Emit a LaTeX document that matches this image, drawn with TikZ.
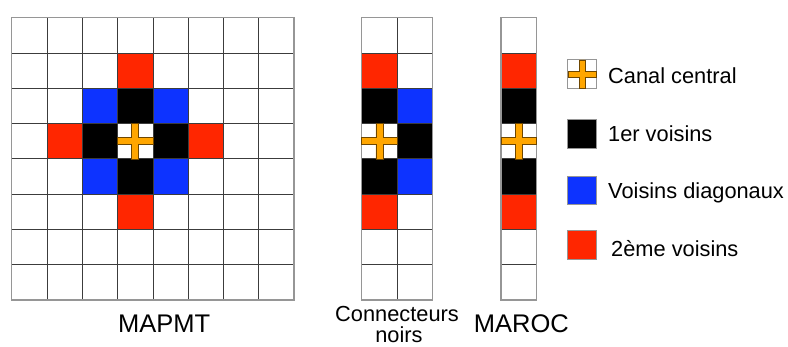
\documentclass[tikz,border=0pt]{standalone}
\usepackage{fontspec}
\setmainfont{Liberation Sans}
\usetikzlibrary{positioning}
\definecolor{vred}  {RGB}{255,38,0}
\definecolor{vblue} {RGB}{13,51,255}
\definecolor{vorange}{RGB}{255,166,0}
\definecolor{vbrown}{RGB}{110,70,0}
\definecolor{gline} {RGB}{60,60,60}
\definecolor{gborder}{RGB}{150,150,150}

\tikzset{
  cell/.style={draw=gline, line width=0.8pt},
  frame/.style={draw=gborder, line width=1.4pt},
  keybox/.style={draw=gborder, line width=1pt},
  title/.style={font=\fontsize{25.5}{30}\selectfont, inner sep=0pt, anchor=base},
  keytext/.style={font=\fontsize{21.8}{26}\selectfont, inner sep=0pt, anchor=base west},
  pics/canal/.style={code={
    \pgfmathsetmacro\hs{#1}
    \pgfmathsetmacro\ht{0.2*#1}
    \filldraw[fill=vorange, draw=vbrown, line width=0.6pt]
      (-\hs,-\ht) -- (-\ht,-\ht) -- (-\ht,-\hs) -- (\ht,-\hs) -- (\ht,-\ht)
      -- (\hs,-\ht) -- (\hs,\ht) -- (\ht,\ht) -- (\ht,\hs) -- (-\ht,\hs)
      -- (-\ht,\ht) -- (-\hs,\ht) -- cycle;
  }}
}

\begin{document}
\begin{tikzpicture}[x=1pt, y=-1pt]
  \fill[white] (0,0) rectangle (788,347);
  \useasboundingbox (0,0) rectangle (788,347);
  \def\cs{35.3}

  % MAPMT 8x8
  \foreach \c/\r in {3/1,1/3,5/3,3/5}
    \fill[vred] (11.7+\c*\cs, 17.7+\r*\cs) rectangle ++(\cs,\cs);
  \foreach \c/\r in {3/2,2/3,4/3,3/4}
    \fill[black] (11.7+\c*\cs, 17.7+\r*\cs) rectangle ++(\cs,\cs);
  \foreach \c/\r in {2/2,4/2,2/4,4/4}
    \fill[vblue] (11.7+\c*\cs, 17.7+\r*\cs) rectangle ++(\cs,\cs);
  \foreach \c in {0,...,7}
    \foreach \r in {0,...,7}
      \draw[cell] (11.7+\c*\cs, 17.7+\r*\cs) rectangle ++(\cs,\cs);
  \draw[frame] (11.7,17.7) rectangle ++(8*\cs,8*\cs);
  \pic at (11.7+3.5*\cs, 17.7+3.5*\cs) {canal=17.65};

  % connecteurs noirs 2x8
  \foreach \r in {1,5}
    \fill[vred] (361.7, 17.7+\r*\cs) rectangle ++(\cs,\cs);
  \foreach \c/\r in {0/2,0/4,1/3}
    \fill[black] (361.7+\c*\cs, 17.7+\r*\cs) rectangle ++(\cs,\cs);
  \foreach \r in {2,4}
    \fill[vblue] (361.7+\cs, 17.7+\r*\cs) rectangle ++(\cs,\cs);
  \foreach \c in {0,1}
    \foreach \r in {0,...,7}
      \draw[cell] (361.7+\c*\cs, 17.7+\r*\cs) rectangle ++(\cs,\cs);
  \draw[frame] (361.7,17.7) rectangle ++(2*\cs,8*\cs);
  \pic at (361.7+0.5*\cs, 17.7+3.5*\cs) {canal=17.65};

  % MAROC 1x8
  \foreach \r in {1,5}
    \fill[vred] (501, 17.7+\r*\cs) rectangle ++(\cs,\cs);
  \foreach \r in {2,4}
    \fill[black] (501, 17.7+\r*\cs) rectangle ++(\cs,\cs);
  \foreach \r in {0,...,7}
    \draw[cell] (501, 17.7+\r*\cs) rectangle ++(\cs,\cs);
  \draw[frame] (501,17.7) rectangle ++(\cs,8*\cs);
  \pic at (501+0.5*\cs, 17.7+3.5*\cs) {canal=17.65};

  \node[title] (mapmt) at (164.2,332.7) {MAPMT};
  \node[title] (maroc) at (521.3,333) {MAROC};
  \node[keytext, anchor=base] (conn) at (397,321.7) {Connecteurs};
  \node[keytext, anchor=base] (connb) at (399,343) {noirs};

  % legende
  \fill[white] (567.8,60) rectangle ++(28.8,28.8);
  \draw[keybox] (567.8,60) rectangle ++(28.8,28.8);
  \pic at (567.8+14.4, 60+14.4) {canal=14.4};
  \filldraw[keybox, fill=black] (567.8,119.8) rectangle ++(28.8,28.8);
  \filldraw[keybox, fill=vblue] (567.8,176.2) rectangle ++(28.8,28.8);
  \filldraw[keybox, fill=vred] (567.8,231) rectangle ++(28.8,28.8);

  \node[keytext] (kcanal) at (608,83.3) {Canal central};
  \node[keytext] (kfirst) at (608,141.7) {1er voisins};
  \node[keytext] (kdiag) at (608,198.3) {Voisins diagonaux};
  \node[keytext] (ksecond) at (611,256.7) {2ème voisins};
\end{tikzpicture}
\end{document}
